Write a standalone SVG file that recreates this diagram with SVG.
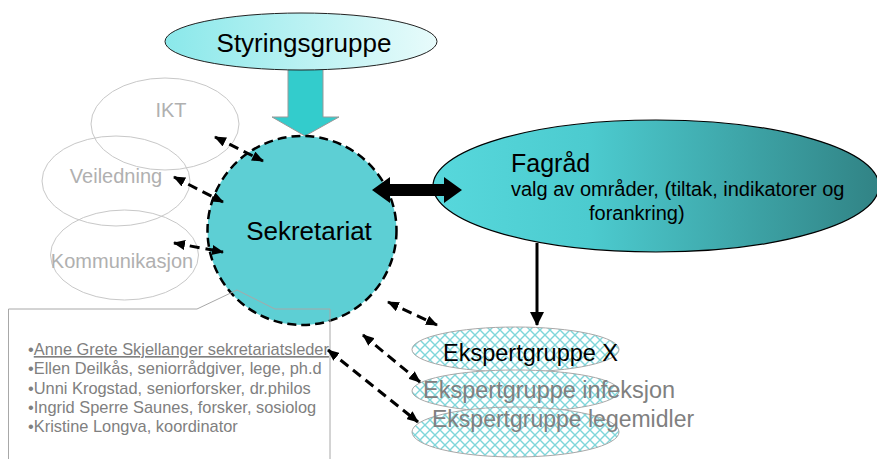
<svg xmlns="http://www.w3.org/2000/svg" width="877" height="459" viewBox="0 0 877 459">
<style>
text { font-family: "Liberation Sans", Arial, sans-serif; }
.side { fill: none; stroke: #c8c8c8; stroke-width: 1; }
.sidet { fill: #b0b0b0; font-size: 20px; text-anchor: middle; }
.dash { fill: none; stroke: #000; stroke-width: 3; stroke-dasharray: 10,6; marker-start: url(#ah); marker-end: url(#ah); }
.exp { fill: url(#hatch); stroke: #a8a8a8; stroke-width: 1; }
.member { fill: #808080; font-size: 16.4px; }
</style>
<defs>
<linearGradient id="gStyr" x1="0" y1="0" x2="1" y2="0">
<stop offset="0" stop-color="#8ae8ea"/>
<stop offset="1" stop-color="#e8fbfb"/>
</linearGradient>
<linearGradient id="gFag" x1="0" y1="0" x2="1" y2="0">
<stop offset="0" stop-color="#57d8dc"/>
<stop offset="0.35" stop-color="#4ccbcf"/>
<stop offset="1" stop-color="#318385"/>
</linearGradient>
<pattern id="hatch" patternUnits="userSpaceOnUse" width="10" height="10">
<rect width="10" height="10" fill="#ffffff"/>
<path d="M0,0 L10,10 M10,0 L0,10" stroke="#7fd6da" stroke-width="1.4"/>
</pattern>
<marker id="ah" markerUnits="userSpaceOnUse" markerWidth="12" markerHeight="10" refX="11" refY="5" orient="auto-start-reverse">
<path d="M0,0 L12,5 L0,10 z" fill="#000"/>
</marker>
<marker id="ahs" markerUnits="userSpaceOnUse" markerWidth="14" markerHeight="14" refX="13" refY="7" orient="auto">
<path d="M0,0 L14,7 L0,14 z" fill="#000"/>
</marker>
</defs>
<rect width="877" height="459" fill="#ffffff"/>

<g id="node-ikt">
<ellipse class="side" cx="165" cy="124" rx="74" ry="46"/>
<text class="sidet" x="171" y="117">IKT</text>
</g>
<g id="node-veiledning">
<ellipse class="side" cx="116" cy="181" rx="74" ry="45"/>
<text class="sidet" x="116" y="183">Veiledning</text>
</g>
<g id="node-kommunikasjon">
<ellipse class="side" cx="124.5" cy="255" rx="74" ry="45"/>
<text class="sidet" x="122" y="268">Kommunikasjon</text>
</g>

<g id="node-styringsgruppe">
<polygon points="288,68 323,68 323,117 339,117 305,136 272,117 288,117" fill="#33cccc" stroke="#999" stroke-width="1"/>
<ellipse cx="301" cy="41.5" rx="136" ry="28.5" fill="url(#gStyr)" stroke="#222" stroke-width="1"/>
<text x="304" y="52" font-size="26" text-anchor="middle" fill="#000">Styringsgruppe</text>
</g>

<g id="node-sekretariat">
<circle cx="302" cy="230.5" r="94.5" fill="#5dcfd4" stroke="#000" stroke-width="2.5" stroke-dasharray="9,5"/>
<text x="309" y="240" font-size="26" text-anchor="middle" fill="#000">Sekretariat</text>
</g>

<g id="node-fagrad">
<ellipse cx="656" cy="186" rx="223" ry="66" fill="url(#gFag)" stroke="#000" stroke-width="1.2"/>
<text x="511" y="172" font-size="25" fill="#000">Fagråd</text>
<text x="511" y="196" font-size="20" fill="#000">valg av områder, (tiltak, indikatorer og</text>
<text x="589" y="220" font-size="20" fill="#000">forankring)</text>
</g>

<g id="node-ekspertgrupper">
<ellipse class="exp" cx="515.5" cy="349.5" rx="103.5" ry="22.5"/>
<ellipse class="exp" cx="515.5" cy="391" rx="103.5" ry="21"/>
<ellipse class="exp" cx="515.5" cy="432" rx="103.5" ry="25" stroke="#707070" stroke-width="2"/>
<text x="443" y="361" font-size="23.5" fill="#000">Ekspertgruppe X</text>
<text x="423" y="398" font-size="23.5" fill="#808080">Ekspertgruppe infeksjon</text>
<text x="432" y="427" font-size="23" fill="#808080">Ekspertgruppe legemidler</text>
</g>

<g id="node-medlemmer">
<path d="M8.5,459 L8.5,309 L197,309 L237,290 L275,309 L330,309 L330,459" fill="none" stroke="#a8a8a8" stroke-width="1"/>
<text class="member" x="28" y="355">•<tspan text-decoration="underline">Anne Grete Skjellanger sekretariatsleder</tspan></text>
<text class="member" x="28" y="374">•Ellen Deilkås, seniorrådgiver, lege, ph.d</text>
<text class="member" x="28" y="393.5">•Unni Krogstad, seniorforsker, dr.philos</text>
<text class="member" x="28" y="413">•Ingrid Sperre Saunes, forsker, sosiolog</text>
<text class="member" x="28" y="432">•Kristine Longva, koordinator</text>
</g>

<g id="connectors">
<line class="dash" x1="215" y1="137" x2="263" y2="161"/>
<line class="dash" x1="174" y1="177" x2="223" y2="202"/>
<line class="dash" x1="174" y1="243" x2="223" y2="252"/>
<line class="dash" x1="388" y1="302" x2="437" y2="325"/>
<line class="dash" x1="363" y1="335" x2="420" y2="382"/>
<line class="dash" x1="328" y1="350" x2="418" y2="422"/>
<polygon points="372,190 390,177 390,184 444,184 444,177 462,190 444,203 444,196 390,196 390,203" fill="#000"/>
<line x1="537" y1="243" x2="537" y2="325" stroke="#000" stroke-width="3" marker-end="url(#ahs)"/>
</g>
</svg>
